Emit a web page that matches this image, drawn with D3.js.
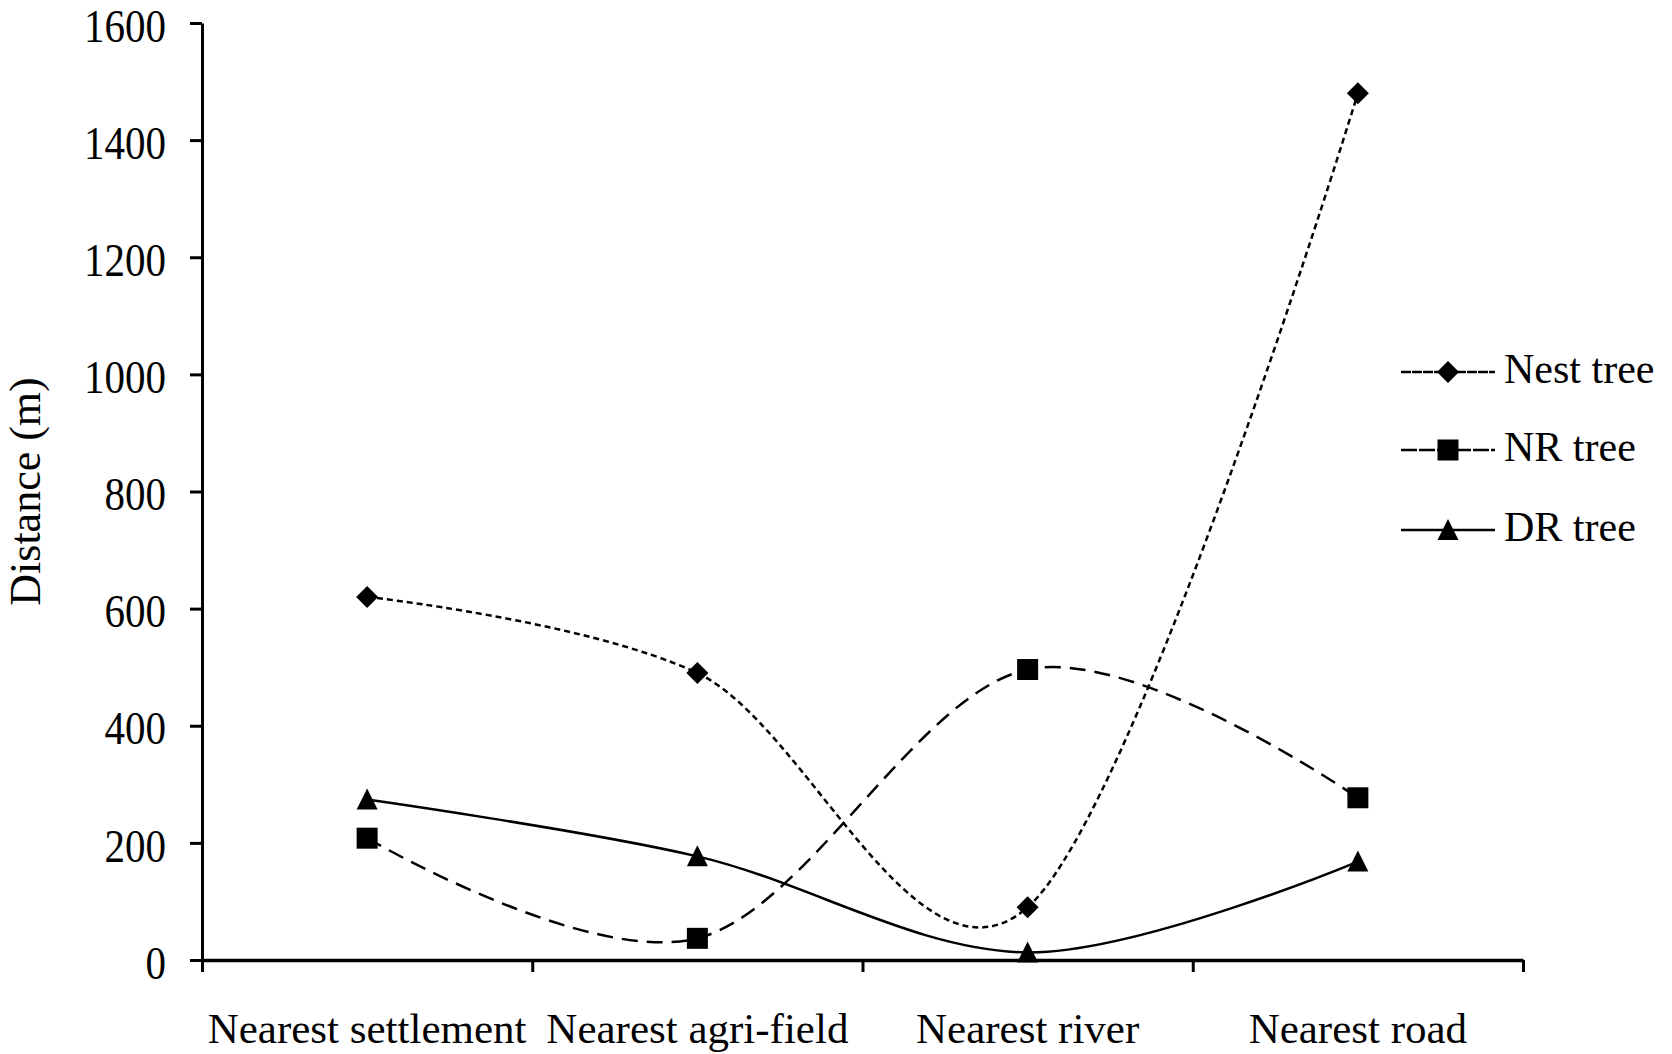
<!DOCTYPE html>
<html>
<head>
<meta charset="utf-8">
<script src="https://cdn.jsdelivr.net/npm/d3@7/dist/d3.min.js"></script>
<style>
  body { margin: 0; background: #fff; }
  svg { display: block; }
  text { font-family: "Liberation Serif", "Times New Roman", serif; fill: #000; }
</style>
</head>
<body>
<script>
// values (distance in m)
const categories = ['Nearest settlement', 'Nearest agri-field', 'Nearest river', 'Nearest road']
const nestTree = [620, 490, 90, 1480]
const nrTree = [208, 37, 496, 277]
const drTree = [274, 177, 13, 168]
const yTicks = [0, 200, 400, 600, 800, 1000, 1200, 1400, 1600]

const series = [
  { name: 'Nest tree', values: nestTree, dash: '6,4', legendDash: '10,1', marker: 'diamond' },
  { name: 'NR tree', values: nrTree, dash: '16,9', legendDash: '16,2', marker: 'square' },
  { name: 'DR tree', values: drTree, dash: null, legendDash: null, marker: 'triangle' }
]

const width = 1672
const height = 1054
const margin = { top: 23, right: 149, bottom: 94, left: 202 }

const svg = d3.select('body').append('svg')
  .attr('width', width)
  .attr('height', height)

const x = d3.scaleBand()
  .domain(categories)
  .range([margin.left, width - margin.right])
  .paddingInner(0)
  .paddingOuter(0)

const xEdge = d3.scaleLinear()
  .domain([0, categories.length])
  .range([margin.left, width - margin.right])

const y = d3.scaleLinear()
  .domain([0, 1600])
  .range([height - margin.bottom, margin.top])

const cx = d => x(d) + x.bandwidth() / 2

// y axis (digits in the figure are a little taller than wide)
const yAxis = svg.append('g')
  .attr('transform', `translate(${margin.left},0)`)
  .call(d3.axisLeft(y).tickValues(yTicks).tickFormat(d3.format('d')).tickSize(12).tickPadding(24).tickSizeOuter(0))
yAxis.select('.domain').attr('stroke-width', 3)
yAxis.selectAll('.tick line').attr('stroke-width', 3)
yAxis.selectAll('.tick text')
  .attr('font-size', 41)
  .attr('dy', '0.39em')
  .attr('transform', 'scale(1,1.14)')

// x axis: ticks at category boundaries
const xAxis = svg.append('g')
  .attr('transform', `translate(0,${y(0)})`)
  .call(d3.axisBottom(xEdge).tickValues(d3.range(categories.length + 1)).tickSize(12).tickSizeOuter(0).tickFormat(''))
xAxis.select('.domain').attr('stroke-width', 3.5)
xAxis.selectAll('.tick line').attr('stroke-width', 3)

// x labels at category centres
const xLabels = svg.append('g')
  .attr('transform', `translate(0,${y(0)})`)
  .call(d3.axisBottom(x).tickSize(0).tickPadding(52))
xLabels.select('.domain').remove()
xLabels.selectAll('.tick text')
  .attr('font-size', 43)

// y title
svg.append('text')
  .attr('transform', `translate(40,${(y(0) + y(1600)) / 2}) rotate(-90)`)
  .attr('text-anchor', 'middle')
  .attr('font-size', 44)
  .text('Distance (m)')

function markerPath (type) {
  if (type === 'diamond') return 'M0,-11L11,0L0,11L-11,0Z'
  if (type === 'square') return 'M-10.5,-10.5H10.5V10.5H-10.5Z'
  return 'M0,-11L10.5,10L-10.5,10Z'
}

const line = d3.line()
  .x((d, i) => cx(categories[i]))
  .y(d => y(d))
  .curve(d3.curveCardinal.tension(0))

series.forEach(s => {
  const g = svg.append('g')
  g.append('path')
    .attr('d', line(s.values))
    .attr('fill', 'none')
    .attr('stroke', '#000')
    .attr('stroke-width', 2.5)
    .attr('stroke-dasharray', s.dash)
  g.selectAll('path.mk')
    .data(s.values)
    .join('path')
    .attr('class', 'mk')
    .attr('transform', (d, i) => `translate(${cx(categories[i])},${y(d)})`)
    .attr('d', markerPath(s.marker))
    .attr('fill', '#000')
})

// legend
const legend = svg.append('g')
const legendY = [372, 450, 530]
series.forEach((s, i) => {
  const g = legend.append('g').attr('transform', `translate(0,${legendY[i]})`)
  g.append('line')
    .attr('x1', 1401).attr('x2', 1495)
    .attr('stroke', '#000')
    .attr('stroke-width', 2.5)
    .attr('stroke-dasharray', s.legendDash)
  g.append('path')
    .attr('transform', 'translate(1448,0)')
    .attr('d', markerPath(s.marker))
  g.append('text')
    .attr('x', 1504)
    .attr('y', 11)
    .attr('font-size', 42)
    .text(s.name)
})
</script>
</body>
</html>
